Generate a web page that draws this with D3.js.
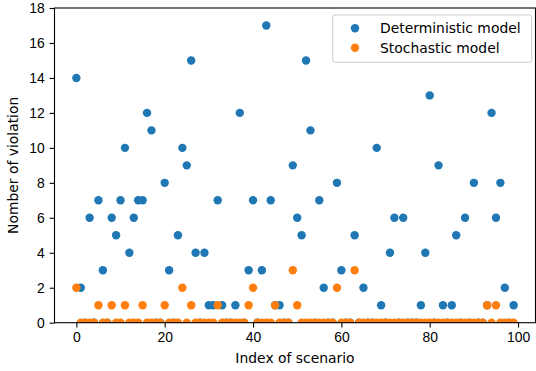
<!DOCTYPE html>
<html>
<head>
<meta charset="utf-8">
<style>
    body { margin: 0; background: #fff; }
    svg { font-family: 'DejaVu Sans', sans-serif; }
    .tick text { font-size: 13.9px; fill: #000; }
</style>
</head>
<body>
<svg width="536" height="371"></svg>
<script src="https://d3js.org/d3.v7.min.js"></script>
<script>
    // number of violations per scenario
    let deterministic = [14, 2, 0, 6, 0, 7, 3, 0, 6, 5,
        7, 10, 4, 6, 7, 7, 12, 11, 0, 0,
        8, 3, 0, 5, 10, 9, 15, 4, 0, 4,
        1, 1, 7, 1, 0, 0, 1, 12, 0, 3,
        7, 0, 3, 17, 7, 1, 1, 0, 0, 9,
        6, 5, 15, 11, 0, 7, 2, 0, 0, 8,
        3, 0, 0, 5, 0, 2, 0, 0, 10, 1,
        0, 4, 6, 0, 6, 0, 0, 0, 1, 4,
        13, 0, 9, 1, 0, 1, 5, 0, 6, 0,
        8, 0, 0, 1, 12, 6, 8, 2, 0, 1]
    let stochastic = [2, 0, 0, 0, 0, 1, 0, 0, 1, 0,
        0, 1, 0, 0, 0, 1, 0, 0, 0, 0,
        1, 0, 0, 0, 2, 0, 1, 0, 0, 0,
        0, 0, 1, 0, 0, 0, 0, 0, 0, 1,
        2, 0, 0, 0, 0, 1, 0, 0, 0, 3,
        1, 0, 0, 0, 0, 0, 0, 0, 0, 2,
        0, 0, 0, 3, 0, 0, 0, 0, 0, 0,
        0, 0, 0, 0, 0, 0, 0, 0, 0, 0,
        0, 0, 0, 0, 0, 0, 0, 0, 0, 0,
        0, 0, 0, 1, 0, 1, 0, 0, 0, 0]
    let seriesNames = ["Deterministic model", "Stochastic model"]
    let xTicks = [0, 20, 40, 60, 80, 100]
    let yTicks = [0, 2, 4, 6, 8, 10, 12, 14, 16, 18]

    let colors = ["#1f77b4", "#ff7f0e"]
    let pLeft = 54.5, pRight = 535.5, pTop = 8, pBottom = 322.7

    let svg = d3.select("svg")

    let x = d3.scaleLinear().domain([-4.95, 103.95]).range([pLeft, pRight])
    let y = d3.scaleLinear().domain([0, 18]).range([pBottom, pTop])

    svg.append("defs").append("clipPath").attr("id", "plot")
        .append("rect")
        .attr("x", pLeft).attr("y", pTop)
        .attr("width", pRight - pLeft).attr("height", pBottom - pTop)

    let dots = svg.append("g").attr("clip-path", "url(#plot)")
    let series = [deterministic, stochastic]
    series.forEach((vals, k) => {
        dots.append("g")
            .selectAll("circle")
            .data(vals)
            .join("circle")
            .attr("cx", (d, i) => x(i))
            .attr("cy", d => y(d))
            .attr("r", 4.2)
            .attr("fill", colors[k])
    })

    // axes
    svg.append("g")
        .attr("transform", `translate(0,${pBottom})`)
        .call(d3.axisBottom(x).tickValues(xTicks).tickSize(4.9).tickPadding(4.9))
    svg.append("g")
        .attr("transform", `translate(${pLeft},0)`)
        .call(d3.axisLeft(y).tickValues(yTicks).tickSize(4.9).tickPadding(4.9))

    svg.selectAll(".domain").remove()
    svg.selectAll(".tick line").attr("stroke", "#000").attr("stroke-width", 1.1)

    // frame
    svg.append("rect")
        .attr("x", pLeft).attr("y", pTop)
        .attr("width", pRight - pLeft).attr("height", pBottom - pTop)
        .attr("fill", "none")
        .attr("stroke", "#000")
        .attr("stroke-width", 1.1)

    svg.append("text")
        .attr("x", (pLeft + pRight) / 2)
        .attr("y", 363)
        .attr("text-anchor", "middle")
        .attr("font-size", "13.9px")
        .text("Index of scenario")

    svg.append("text")
        .attr("transform", `translate(18,${(pTop + pBottom) / 2}) rotate(-90)`)
        .attr("text-anchor", "middle")
        .attr("font-size", "13.9px")
        .text("Nomber of violation")

    // legend
    let legend = svg.append("g")
    legend.append("rect")
        .attr("x", 332.7).attr("y", 15)
        .attr("width", 199).attr("height", 47.3)
        .attr("rx", 2.5)
        .attr("fill", "#fff").attr("fill-opacity", 0.8)
        .attr("stroke", "#ccc").attr("stroke-width", 1)
    seriesNames.forEach((name, k) => {
        let ly = 28.3 + k * 19.4
        legend.append("circle")
            .attr("cx", 355).attr("cy", ly).attr("r", 4.2)
            .attr("fill", colors[k])
        legend.append("text")
            .attr("x", 380).attr("y", ly + 5)
            .attr("font-size", "13.9px")
            .text(name)
    })
</script>
</body>
</html>
